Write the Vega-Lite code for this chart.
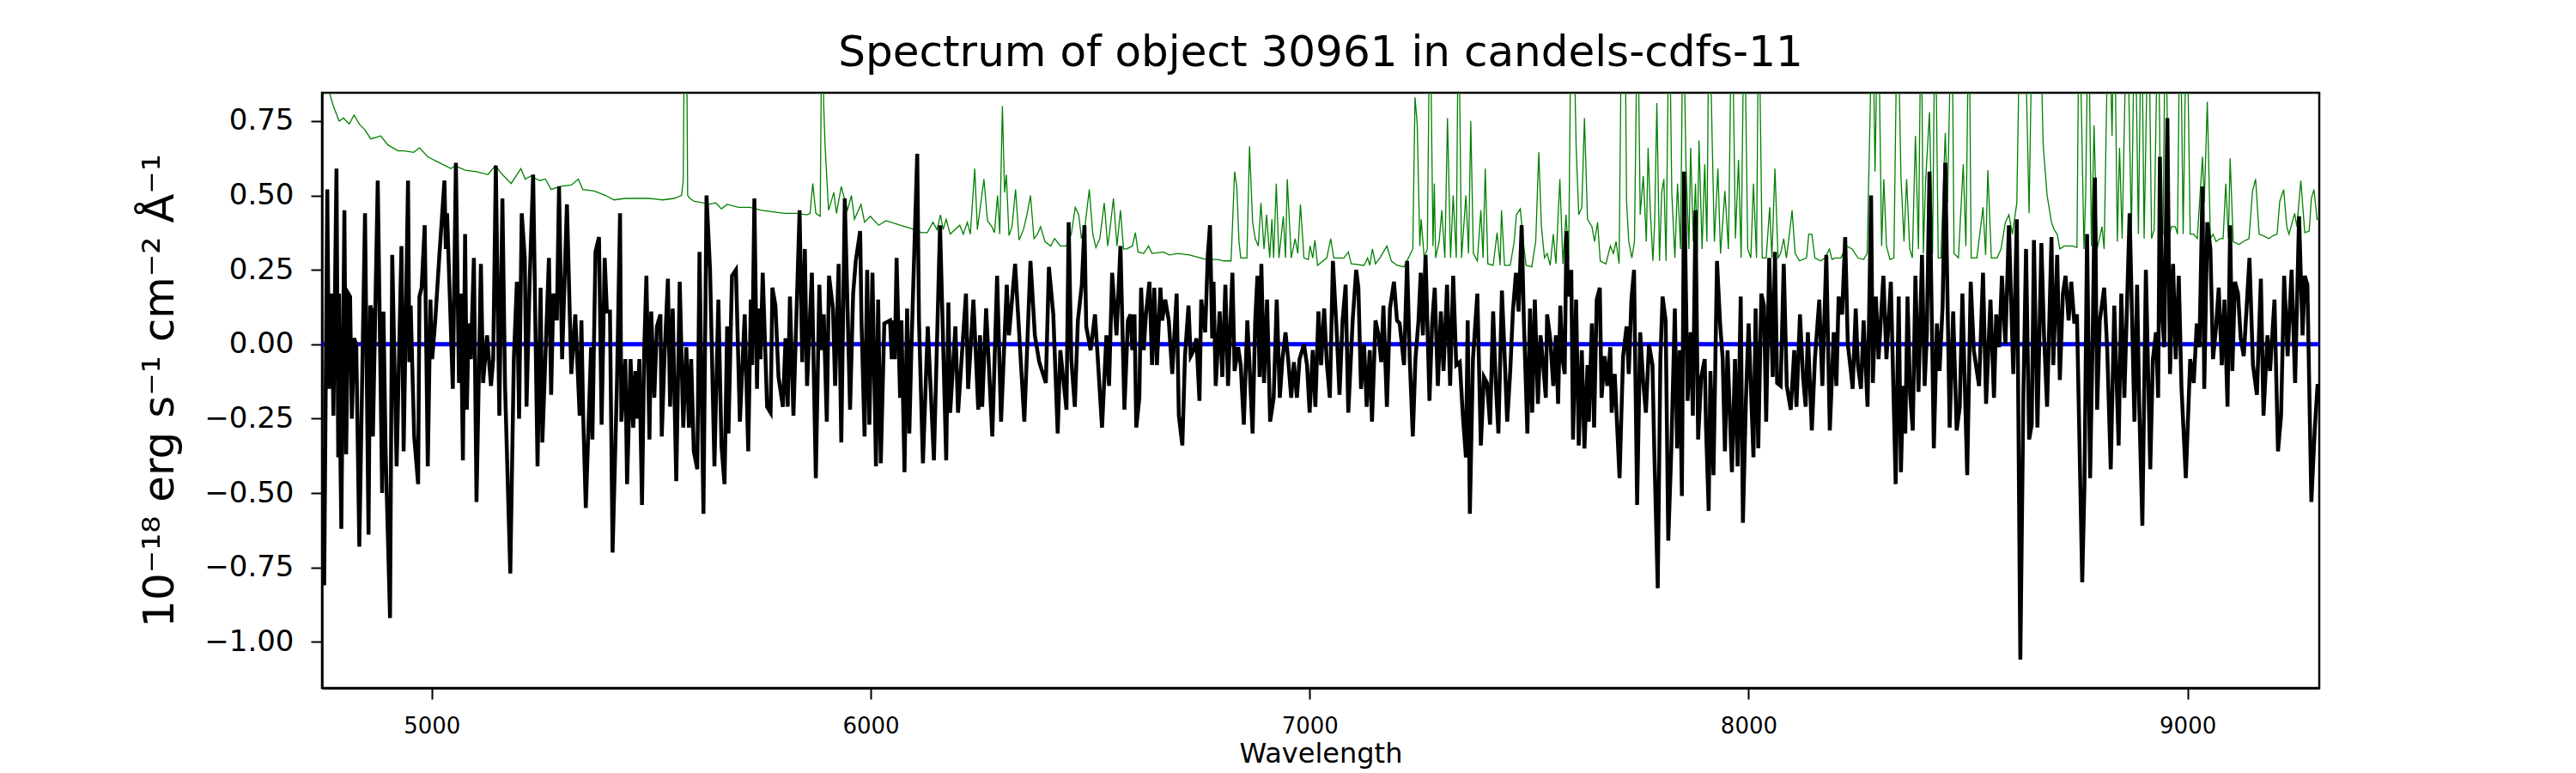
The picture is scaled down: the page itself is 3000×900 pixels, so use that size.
{
"$schema": "https://vega.github.io/schema/vega-lite/v6.json",
"width": 2326,
"height": 693,
"autosize": {"type": "none"},
"padding": {"left": 375, "top": 108, "right": 299, "bottom": 99},
"background": "white",
"config": {"view": {"stroke": "black", "strokeWidth": 2.5}, "font": "DejaVu Sans"},
"title": {"text": "Spectrum of object 30961 in candels-cdfs-11", "font": "DejaVu Sans", "fontSize": 50, "fontWeight": "normal", "color": "black", "anchor": "middle", "frame": "group", "baseline": "alphabetic", "offset": 28, "dy": 47},
"datasets": {
"flux": [
{"wavelength":4750,"flux":-0.35},{"wavelength":4755,"flux":-0.81},{"wavelength":4762,"flux":0.52},{"wavelength":4766,"flux":-0.15},{"wavelength":4772,"flux":0.17},{"wavelength":4776,"flux":-0.24},{"wavelength":4783,"flux":0.59},{"wavelength":4787,"flux":-0.38},{"wavelength":4789,"flux":0.17},{"wavelength":4791,"flux":-0.27},{"wavelength":4794,"flux":-0.62},{"wavelength":4801,"flux":0.45},{"wavelength":4805,"flux":-0.37},{"wavelength":4810,"flux":0.17},{"wavelength":4814,"flux":0.16},{"wavelength":4818,"flux":-0.25},{"wavelength":4823,"flux":0.02},{"wavelength":4828,"flux":0.0},{"wavelength":4835,"flux":-0.68},{"wavelength":4848,"flux":0.44},{"wavelength":4856,"flux":-0.64},{"wavelength":4860,"flux":0.13},{"wavelength":4864,"flux":0.11},{"wavelength":4866,"flux":-0.31},{"wavelength":4877,"flux":0.55},{"wavelength":4887,"flux":-0.50},{"wavelength":4890,"flux":0.11},{"wavelength":4895,"flux":-0.36},{"wavelength":4905,"flux":-0.92},{"wavelength":4910,"flux":0.30},{"wavelength":4920,"flux":-0.41},{"wavelength":4931,"flux":0.33},{"wavelength":4936,"flux":-0.36},{"wavelength":4946,"flux":0.55},{"wavelength":4949,"flux":-0.06},{"wavelength":4952,"flux":0.13},{"wavelength":4960,"flux":-0.31},{"wavelength":4969,"flux":-0.47},{"wavelength":4972,"flux":0.16},{"wavelength":4977,"flux":0.19},{"wavelength":4984,"flux":0.40},{"wavelength":4991,"flux":-0.41},{"wavelength":4997,"flux":0.15},{"wavelength":5001,"flux":-0.05},{"wavelength":5008,"flux":0.08},{"wavelength":5017,"flux":0.29},{"wavelength":5029,"flux":0.55},{"wavelength":5032,"flux":0.32},{"wavelength":5035,"flux":0.44},{"wavelength":5048,"flux":-0.15},{"wavelength":5055,"flux":0.61},{"wavelength":5062,"flux":-0.13},{"wavelength":5066,"flux":0.17},{"wavelength":5071,"flux":-0.39},{"wavelength":5076,"flux":0.37},{"wavelength":5080,"flux":-0.22},{"wavelength":5084,"flux":0.07},{"wavelength":5089,"flux":-0.05},{"wavelength":5096,"flux":0.29},{"wavelength":5102,"flux":-0.53},{"wavelength":5112,"flux":0.27},{"wavelength":5117,"flux":-0.13},{"wavelength":5126,"flux":0.03},{"wavelength":5135,"flux":-0.14},{"wavelength":5140,"flux":-0.05},{"wavelength":5146,"flux":0.60},{"wavelength":5154,"flux":-0.24},{"wavelength":5161,"flux":0.49},{"wavelength":5167,"flux":-0.14},{"wavelength":5179,"flux":-0.77},{"wavelength":5187,"flux":-0.05},{"wavelength":5194,"flux":0.21},{"wavelength":5199,"flux":-0.25},{"wavelength":5205,"flux":0.44},{"wavelength":5212,"flux":0.29},{"wavelength":5216,"flux":-0.21},{"wavelength":5223,"flux":0.21},{"wavelength":5231,"flux":0.57},{"wavelength":5241,"flux":-0.41},{"wavelength":5248,"flux":0.19},{"wavelength":5252,"flux":-0.33},{"wavelength":5267,"flux":0.29},{"wavelength":5272,"flux":-0.17},{"wavelength":5277,"flux":0.17},{"wavelength":5285,"flux":0.08},{"wavelength":5290,"flux":0.53},{"wavelength":5297,"flux":-0.05},{"wavelength":5308,"flux":0.47},{"wavelength":5318,"flux":-0.10},{"wavelength":5327,"flux":0.10},{"wavelength":5337,"flux":-0.24},{"wavelength":5341,"flux":0.08},{"wavelength":5345,"flux":-0.24},{"wavelength":5351,"flux":-0.55},{"wavelength":5363,"flux":-0.01},{"wavelength":5366,"flux":-0.32},{"wavelength":5373,"flux":0.31},{"wavelength":5381,"flux":0.36},{"wavelength":5387,"flux":-0.27},{"wavelength":5394,"flux":0.29},{"wavelength":5399,"flux":0.11},{"wavelength":5406,"flux":0.11},{"wavelength":5412,"flux":-0.70},{"wavelength":5422,"flux":-0.13},{"wavelength":5429,"flux":0.44},{"wavelength":5432,"flux":-0.26},{"wavelength":5441,"flux":-0.05},{"wavelength":5445,"flux":-0.47},{"wavelength":5453,"flux":-0.05},{"wavelength":5459,"flux":-0.28},{"wavelength":5464,"flux":-0.09},{"wavelength":5468,"flux":-0.25},{"wavelength":5473,"flux":-0.05},{"wavelength":5479,"flux":-0.54},{"wavelength":5484,"flux":-0.02},{"wavelength":5489,"flux":0.23},{"wavelength":5496,"flux":-0.32},{"wavelength":5500,"flux":0.11},{"wavelength":5507,"flux":-0.18},{"wavelength":5513,"flux":0.06},{"wavelength":5521,"flux":0.10},{"wavelength":5524,"flux":-0.31},{"wavelength":5530,"flux":-0.05},{"wavelength":5538,"flux":0.22},{"wavelength":5543,"flux":-0.21},{"wavelength":5549,"flux":0.12},{"wavelength":5557,"flux":-0.46},{"wavelength":5565,"flux":0.21},{"wavelength":5573,"flux":-0.28},{"wavelength":5580,"flux":-0.01},{"wavelength":5586,"flux":-0.28},{"wavelength":5591,"flux":-0.05},{"wavelength":5597,"flux":-0.36},{"wavelength":5605,"flux":-0.42},{"wavelength":5610,"flux":0.31},{"wavelength":5619,"flux":-0.57},{"wavelength":5626,"flux":0.50},{"wavelength":5634,"flux":0.25},{"wavelength":5644,"flux":-0.41},{"wavelength":5653,"flux":0.15},{"wavelength":5660,"flux":-0.34},{"wavelength":5667,"flux":-0.47},{"wavelength":5673,"flux":0.06},{"wavelength":5676,"flux":-0.30},{"wavelength":5684,"flux":0.23},{"wavelength":5693,"flux":0.25},{"wavelength":5702,"flux":-0.26},{"wavelength":5713,"flux":0.10},{"wavelength":5721,"flux":-0.36},{"wavelength":5727,"flux":0.15},{"wavelength":5730,"flux":-0.07},{"wavelength":5735,"flux":0.49},{"wavelength":5741,"flux":-0.15},{"wavelength":5744,"flux":0.12},{"wavelength":5749,"flux":-0.05},{"wavelength":5754,"flux":0.24},{"wavelength":5764,"flux":-0.21},{"wavelength":5772,"flux":-0.23},{"wavelength":5776,"flux":0.19},{"wavelength":5783,"flux":0.13},{"wavelength":5790,"flux":-0.11},{"wavelength":5800,"flux":-0.21},{"wavelength":5806,"flux":0.02},{"wavelength":5811,"flux":-0.21},{"wavelength":5816,"flux":0.16},{"wavelength":5824,"flux":-0.24},{"wavelength":5838,"flux":0.45},{"wavelength":5844,"flux":-0.06},{"wavelength":5850,"flux":0.32},{"wavelength":5855,"flux":-0.14},{"wavelength":5866,"flux":0.24},{"wavelength":5875,"flux":-0.45},{"wavelength":5883,"flux":0.20},{"wavelength":5888,"flux":-0.02},{"wavelength":5893,"flux":0.10},{"wavelength":5900,"flux":-0.26},{"wavelength":5905,"flux":0.23},{"wavelength":5914,"flux":0.12},{"wavelength":5919,"flux":-0.14},{"wavelength":5927,"flux":0.27},{"wavelength":5933,"flux":-0.33},{"wavelength":5941,"flux":0.49},{"wavelength":5953,"flux":-0.22},{"wavelength":5960,"flux":0.17},{"wavelength":5966,"flux":0.28},{"wavelength":5976,"flux":0.38},{"wavelength":5979,"flux":0.08},{"wavelength":5986,"flux":-0.31},{"wavelength":5992,"flux":0.25},{"wavelength":5997,"flux":-0.27},{"wavelength":6004,"flux":0.24},{"wavelength":6012,"flux":-0.41},{"wavelength":6017,"flux":0.15},{"wavelength":6023,"flux":-0.40},{"wavelength":6031,"flux":0.07},{"wavelength":6044,"flux":0.08},{"wavelength":6048,"flux":-0.05},{"wavelength":6051,"flux":0.08},{"wavelength":6055,"flux":-0.05},{"wavelength":6059,"flux":0.29},{"wavelength":6067,"flux":-0.18},{"wavelength":6070,"flux":0.08},{"wavelength":6077,"flux":-0.43},{"wavelength":6083,"flux":0.12},{"wavelength":6088,"flux":-0.30},{"wavelength":6093,"flux":0.00},{"wavelength":6106,"flux":0.64},{"wavelength":6110,"flux":0.08},{"wavelength":6119,"flux":-0.40},{"wavelength":6130,"flux":0.06},{"wavelength":6136,"flux":-0.13},{"wavelength":6144,"flux":-0.39},{"wavelength":6158,"flux":0.40},{"wavelength":6172,"flux":-0.39},{"wavelength":6177,"flux":0.14},{"wavelength":6181,"flux":-0.23},{"wavelength":6193,"flux":0.06},{"wavelength":6199,"flux":-0.23},{"wavelength":6217,"flux":0.17},{"wavelength":6222,"flux":-0.15},{"wavelength":6234,"flux":0.15},{"wavelength":6245,"flux":-0.22},{"wavelength":6249,"flux":0.03},{"wavelength":6254,"flux":-0.21},{"wavelength":6263,"flux":0.12},{"wavelength":6277,"flux":-0.31},{"wavelength":6288,"flux":0.23},{"wavelength":6297,"flux":-0.26},{"wavelength":6310,"flux":0.20},{"wavelength":6315,"flux":0.03},{"wavelength":6329,"flux":0.27},{"wavelength":6350,"flux":-0.26},{"wavelength":6364,"flux":0.28},{"wavelength":6374,"flux":0.03},{"wavelength":6384,"flux":-0.06},{"wavelength":6399,"flux":-0.13},{"wavelength":6406,"flux":0.26},{"wavelength":6416,"flux":0.10},{"wavelength":6426,"flux":-0.30},{"wavelength":6432,"flux":-0.02},{"wavelength":6446,"flux":-0.22},{"wavelength":6451,"flux":0.41},{"wavelength":6457,"flux":-0.05},{"wavelength":6465,"flux":-0.21},{"wavelength":6472,"flux":0.08},{"wavelength":6481,"flux":0.20},{"wavelength":6487,"flux":0.40},{"wavelength":6491,"flux":0.06},{"wavelength":6501,"flux":-0.02},{"wavelength":6511,"flux":0.10},{"wavelength":6517,"flux":-0.04},{"wavelength":6527,"flux":-0.28},{"wavelength":6537,"flux":0.03},{"wavelength":6543,"flux":-0.14},{"wavelength":6550,"flux":0.24},{"wavelength":6560,"flux":0.03},{"wavelength":6569,"flux":0.33},{"wavelength":6578,"flux":-0.22},{"wavelength":6586,"flux":0.08},{"wavelength":6592,"flux":0.10},{"wavelength":6596,"flux":-0.02},{"wavelength":6601,"flux":0.10},{"wavelength":6605,"flux":-0.28},{"wavelength":6612,"flux":-0.18},{"wavelength":6616,"flux":0.19},{"wavelength":6622,"flux":-0.02},{"wavelength":6627,"flux":0.10},{"wavelength":6635,"flux":0.21},{"wavelength":6641,"flux":-0.07},{"wavelength":6646,"flux":0.19},{"wavelength":6652,"flux":-0.07},{"wavelength":6660,"flux":0.19},{"wavelength":6664,"flux":0.08},{"wavelength":6671,"flux":0.15},{"wavelength":6679,"flux":0.08},{"wavelength":6687,"flux":-0.10},{"wavelength":6697,"flux":0.17},{"wavelength":6702,"flux":-0.24},{"wavelength":6710,"flux":-0.34},{"wavelength":6716,"flux":-0.04},{"wavelength":6724,"flux":0.13},{"wavelength":6729,"flux":-0.04},{"wavelength":6736,"flux":-0.02},{"wavelength":6742,"flux":0.02},{"wavelength":6749,"flux":-0.19},{"wavelength":6753,"flux":0.15},{"wavelength":6762,"flux":0.04},{"wavelength":6768,"flux":0.30},{"wavelength":6773,"flux":0.40},{"wavelength":6778,"flux":0.02},{"wavelength":6781,"flux":0.21},{"wavelength":6786,"flux":-0.14},{"wavelength":6795,"flux":0.11},{"wavelength":6801,"flux":-0.11},{"wavelength":6808,"flux":0.20},{"wavelength":6814,"flux":-0.14},{"wavelength":6824,"flux":0.24},{"wavelength":6829,"flux":-0.09},{"wavelength":6837,"flux":-0.01},{"wavelength":6843,"flux":-0.07},{"wavelength":6850,"flux":-0.27},{"wavelength":6858,"flux":0.08},{"wavelength":6863,"flux":-0.07},{"wavelength":6870,"flux":-0.30},{"wavelength":6876,"flux":0.08},{"wavelength":6881,"flux":0.23},{"wavelength":6886,"flux":-0.11},{"wavelength":6890,"flux":0.27},{"wavelength":6896,"flux":-0.13},{"wavelength":6903,"flux":0.15},{"wavelength":6910,"flux":-0.26},{"wavelength":6918,"flux":-0.18},{"wavelength":6925,"flux":0.15},{"wavelength":6932,"flux":-0.18},{"wavelength":6938,"flux":-0.05},{"wavelength":6945,"flux":0.04},{"wavelength":6951,"flux":-0.05},{"wavelength":6958,"flux":-0.18},{"wavelength":6964,"flux":-0.06},{"wavelength":6971,"flux":-0.18},{"wavelength":6977,"flux":-0.05},{"wavelength":6987,"flux":0.00},{"wavelength":6994,"flux":-0.07},{"wavelength":7000,"flux":-0.23},{"wavelength":7007,"flux":-0.02},{"wavelength":7013,"flux":-0.21},{"wavelength":7020,"flux":0.11},{"wavelength":7026,"flux":-0.07},{"wavelength":7033,"flux":0.12},{"wavelength":7039,"flux":-0.06},{"wavelength":7046,"flux":-0.18},{"wavelength":7053,"flux":0.28},{"wavelength":7062,"flux":0.03},{"wavelength":7068,"flux":-0.17},{"wavelength":7075,"flux":0.08},{"wavelength":7082,"flux":0.20},{"wavelength":7088,"flux":-0.23},{"wavelength":7098,"flux":0.08},{"wavelength":7106,"flux":0.25},{"wavelength":7111,"flux":0.19},{"wavelength":7117,"flux":-0.15},{"wavelength":7124,"flux":0.00},{"wavelength":7130,"flux":-0.21},{"wavelength":7137,"flux":-0.02},{"wavelength":7142,"flux":-0.26},{"wavelength":7150,"flux":0.08},{"wavelength":7157,"flux":0.03},{"wavelength":7163,"flux":-0.06},{"wavelength":7168,"flux":0.13},{"wavelength":7176,"flux":-0.21},{"wavelength":7183,"flux":0.12},{"wavelength":7192,"flux":0.21},{"wavelength":7199,"flux":0.08},{"wavelength":7205,"flux":0.07},{"wavelength":7215,"flux":-0.07},{"wavelength":7222,"flux":0.28},{"wavelength":7228,"flux":-0.05},{"wavelength":7235,"flux":-0.31},{"wavelength":7241,"flux":-0.05},{"wavelength":7248,"flux":0.08},{"wavelength":7253,"flux":0.24},{"wavelength":7258,"flux":0.03},{"wavelength":7264,"flux":0.30},{"wavelength":7273,"flux":-0.19},{"wavelength":7279,"flux":0.07},{"wavelength":7285,"flux":0.19},{"wavelength":7292,"flux":-0.14},{"wavelength":7299,"flux":0.11},{"wavelength":7305,"flux":-0.09},{"wavelength":7313,"flux":0.20},{"wavelength":7320,"flux":-0.14},{"wavelength":7327,"flux":0.23},{"wavelength":7334,"flux":-0.07},{"wavelength":7342,"flux":-0.06},{"wavelength":7349,"flux":-0.24},{"wavelength":7356,"flux":-0.38},{"wavelength":7360,"flux":0.08},{"wavelength":7365,"flux":-0.57},{"wavelength":7372,"flux":-0.05},{"wavelength":7382,"flux":0.17},{"wavelength":7390,"flux":-0.34},{"wavelength":7397,"flux":-0.11},{"wavelength":7404,"flux":-0.13},{"wavelength":7411,"flux":-0.27},{"wavelength":7418,"flux":0.11},{"wavelength":7424,"flux":-0.13},{"wavelength":7430,"flux":-0.30},{"wavelength":7438,"flux":0.18},{"wavelength":7445,"flux":-0.07},{"wavelength":7450,"flux":-0.26},{"wavelength":7457,"flux":-0.09},{"wavelength":7463,"flux":0.11},{"wavelength":7470,"flux":0.24},{"wavelength":7476,"flux":0.11},{"wavelength":7483,"flux":0.40},{"wavelength":7488,"flux":0.08},{"wavelength":7496,"flux":-0.30},{"wavelength":7502,"flux":0.12},{"wavelength":7507,"flux":-0.23},{"wavelength":7513,"flux":0.15},{"wavelength":7520,"flux":-0.20},{"wavelength":7526,"flux":0.03},{"wavelength":7532,"flux":-0.07},{"wavelength":7538,"flux":-0.18},{"wavelength":7541,"flux":0.10},{"wavelength":7548,"flux":0.02},{"wavelength":7555,"flux":-0.14},{"wavelength":7561,"flux":0.03},{"wavelength":7566,"flux":-0.20},{"wavelength":7571,"flux":0.13},{"wavelength":7576,"flux":-0.05},{"wavelength":7581,"flux":-0.10},{"wavelength":7585,"flux":0.38},{"wavelength":7589,"flux":0.16},{"wavelength":7596,"flux":0.25},{"wavelength":7600,"flux":-0.32},{"wavelength":7607,"flux":0.15},{"wavelength":7613,"flux":-0.34},{"wavelength":7620,"flux":-0.02},{"wavelength":7626,"flux":-0.35},{"wavelength":7633,"flux":-0.07},{"wavelength":7636,"flux":-0.26},{"wavelength":7643,"flux":0.07},{"wavelength":7648,"flux":-0.28},{"wavelength":7654,"flux":0.15},{"wavelength":7661,"flux":0.19},{"wavelength":7665,"flux":-0.18},{"wavelength":7672,"flux":-0.04},{"wavelength":7678,"flux":-0.14},{"wavelength":7685,"flux":-0.01},{"wavelength":7688,"flux":-0.23},{"wavelength":7695,"flux":-0.10},{"wavelength":7706,"flux":-0.45},{"wavelength":7714,"flux":-0.04},{"wavelength":7722,"flux":0.06},{"wavelength":7727,"flux":-0.10},{"wavelength":7733,"flux":0.15},{"wavelength":7739,"flux":0.25},{"wavelength":7746,"flux":-0.54},{"wavelength":7753,"flux":0.04},{"wavelength":7760,"flux":-0.13},{"wavelength":7766,"flux":-0.23},{"wavelength":7773,"flux":0.00},{"wavelength":7781,"flux":-0.07},{"wavelength":7785,"flux":-0.35},{"wavelength":7793,"flux":-0.82},{"wavelength":7799,"flux":-0.05},{"wavelength":7804,"flux":0.16},{"wavelength":7811,"flux":0.08},{"wavelength":7817,"flux":-0.66},{"wavelength":7824,"flux":-0.35},{"wavelength":7832,"flux":0.12},{"wavelength":7837,"flux":-0.35},{"wavelength":7843,"flux":-0.02},{"wavelength":7848,"flux":-0.51},{"wavelength":7853,"flux":0.58},{"wavelength":7861,"flux":-0.19},{"wavelength":7868,"flux":0.04},{"wavelength":7873,"flux":-0.24},{"wavelength":7879,"flux":0.45},{"wavelength":7885,"flux":-0.32},{"wavelength":7892,"flux":-0.11},{"wavelength":7900,"flux":-0.05},{"wavelength":7903,"flux":-0.28},{"wavelength":7909,"flux":-0.56},{"wavelength":7913,"flux":-0.09},{"wavelength":7920,"flux":-0.44},{"wavelength":7928,"flux":0.28},{"wavelength":7935,"flux":0.07},{"wavelength":7941,"flux":-0.05},{"wavelength":7946,"flux":-0.36},{"wavelength":7952,"flux":-0.02},{"wavelength":7962,"flux":-0.43},{"wavelength":7969,"flux":-0.05},{"wavelength":7975,"flux":-0.41},{"wavelength":7982,"flux":0.16},{"wavelength":7987,"flux":-0.60},{"wavelength":7994,"flux":-0.18},{"wavelength":8000,"flux":0.07},{"wavelength":8011,"flux":-0.38},{"wavelength":8016,"flux":0.12},{"wavelength":8022,"flux":-0.35},{"wavelength":8029,"flux":0.17},{"wavelength":8035,"flux":0.13},{"wavelength":8040,"flux":-0.26},{"wavelength":8047,"flux":0.29},{"wavelength":8055,"flux":-0.11},{"wavelength":8060,"flux":0.31},{"wavelength":8065,"flux":-0.13},{"wavelength":8073,"flux":-0.14},{"wavelength":8080,"flux":0.27},{"wavelength":8087,"flux":-0.14},{"wavelength":8096,"flux":-0.22},{"wavelength":8104,"flux":-0.02},{"wavelength":8109,"flux":-0.21},{"wavelength":8117,"flux":0.10},{"wavelength":8124,"flux":-0.11},{"wavelength":8130,"flux":-0.21},{"wavelength":8135,"flux":0.04},{"wavelength":8144,"flux":-0.29},{"wavelength":8151,"flux":-0.05},{"wavelength":8161,"flux":0.15},{"wavelength":8168,"flux":-0.14},{"wavelength":8177,"flux":0.30},{"wavelength":8185,"flux":-0.29},{"wavelength":8194,"flux":0.04},{"wavelength":8200,"flux":-0.14},{"wavelength":8205,"flux":0.16},{"wavelength":8213,"flux":0.10},{"wavelength":8220,"flux":0.36},{"wavelength":8226,"flux":0.00},{"wavelength":8233,"flux":-0.09},{"wavelength":8237,"flux":-0.15},{"wavelength":8244,"flux":0.12},{"wavelength":8249,"flux":-0.07},{"wavelength":8256,"flux":-0.15},{"wavelength":8262,"flux":0.08},{"wavelength":8271,"flux":-0.21},{"wavelength":8279,"flux":0.50},{"wavelength":8283,"flux":-0.13},{"wavelength":8290,"flux":0.16},{"wavelength":8296,"flux":-0.05},{"wavelength":8307,"flux":0.23},{"wavelength":8314,"flux":-0.05},{"wavelength":8324,"flux":0.21},{"wavelength":8335,"flux":-0.47},{"wavelength":8342,"flux":0.16},{"wavelength":8347,"flux":-0.43},{"wavelength":8352,"flux":-0.14},{"wavelength":8357,"flux":-0.30},{"wavelength":8362,"flux":0.16},{"wavelength":8368,"flux":-0.17},{"wavelength":8374,"flux":-0.29},{"wavelength":8380,"flux":0.23},{"wavelength":8387,"flux":-0.16},{"wavelength":8395,"flux":0.30},{"wavelength":8401,"flux":-0.14},{"wavelength":8406,"flux":0.03},{"wavelength":8412,"flux":0.58},{"wavelength":8422,"flux":-0.35},{"wavelength":8429,"flux":0.07},{"wavelength":8435,"flux":-0.09},{"wavelength":8442,"flux":0.13},{"wavelength":8448,"flux":0.61},{"wavelength":8458,"flux":-0.28},{"wavelength":8466,"flux":0.11},{"wavelength":8474,"flux":-0.29},{"wavelength":8481,"flux":-0.21},{"wavelength":8487,"flux":0.17},{"wavelength":8498,"flux":-0.44},{"wavelength":8506,"flux":0.21},{"wavelength":8513,"flux":-0.02},{"wavelength":8525,"flux":-0.14},{"wavelength":8534,"flux":0.24},{"wavelength":8541,"flux":-0.20},{"wavelength":8551,"flux":0.15},{"wavelength":8559,"flux":-0.18},{"wavelength":8564,"flux":0.10},{"wavelength":8571,"flux":-0.01},{"wavelength":8577,"flux":0.23},{"wavelength":8585,"flux":0.00},{"wavelength":8593,"flux":0.40},{"wavelength":8603,"flux":-0.10},{"wavelength":8611,"flux":0.42},{"wavelength":8619,"flux":-1.06},{"wavelength":8626,"flux":-0.17},{"wavelength":8632,"flux":0.32},{"wavelength":8639,"flux":-0.32},{"wavelength":8645,"flux":-0.27},{"wavelength":8650,"flux":0.35},{"wavelength":8658,"flux":-0.28},{"wavelength":8667,"flux":0.34},{"wavelength":8673,"flux":0.03},{"wavelength":8680,"flux":-0.21},{"wavelength":8690,"flux":0.36},{"wavelength":8694,"flux":-0.07},{"wavelength":8703,"flux":0.30},{"wavelength":8709,"flux":-0.12},{"wavelength":8716,"flux":0.17},{"wavelength":8722,"flux":0.23},{"wavelength":8729,"flux":0.08},{"wavelength":8735,"flux":0.21},{"wavelength":8742,"flux":0.07},{"wavelength":8748,"flux":0.10},{"wavelength":8760,"flux":-0.80},{"wavelength":8765,"flux":-0.48},{"wavelength":8771,"flux":0.37},{"wavelength":8778,"flux":-0.45},{"wavelength":8784,"flux":0.04},{"wavelength":8789,"flux":0.56},{"wavelength":8794,"flux":-0.22},{"wavelength":8800,"flux":0.08},{"wavelength":8810,"flux":0.19},{"wavelength":8817,"flux":-0.02},{"wavelength":8825,"flux":-0.42},{"wavelength":8833,"flux":0.13},{"wavelength":8843,"flux":-0.34},{"wavelength":8849,"flux":0.17},{"wavelength":8856,"flux":-0.18},{"wavelength":8868,"flux":0.44},{"wavelength":8879,"flux":-0.26},{"wavelength":8885,"flux":0.20},{"wavelength":8890,"flux":-0.21},{"wavelength":8897,"flux":-0.61},{"wavelength":8905,"flux":0.25},{"wavelength":8915,"flux":-0.42},{"wavelength":8921,"flux":-0.05},{"wavelength":8928,"flux":0.04},{"wavelength":8933,"flux":-0.18},{"wavelength":8937,"flux":0.63},{"wavelength":8943,"flux":0.08},{"wavelength":8947,"flux":-0.01},{"wavelength":8954,"flux":0.76},{"wavelength":8960,"flux":-0.10},{"wavelength":8967,"flux":0.27},{"wavelength":8973,"flux":-0.05},{"wavelength":8980,"flux":0.23},{"wavelength":8986,"flux":-0.14},{"wavelength":8996,"flux":-0.45},{"wavelength":9006,"flux":-0.05},{"wavelength":9014,"flux":-0.13},{"wavelength":9021,"flux":0.07},{"wavelength":9027,"flux":-0.01},{"wavelength":9034,"flux":0.53},{"wavelength":9038,"flux":-0.15},{"wavelength":9045,"flux":0.41},{"wavelength":9052,"flux":0.32},{"wavelength":9058,"flux":-0.05},{"wavelength":9065,"flux":0.06},{"wavelength":9071,"flux":0.19},{"wavelength":9078,"flux":-0.07},{"wavelength":9084,"flux":0.15},{"wavelength":9091,"flux":-0.21},{"wavelength":9097,"flux":0.40},{"wavelength":9102,"flux":-0.09},{"wavelength":9108,"flux":0.21},{"wavelength":9115,"flux":0.17},{"wavelength":9121,"flux":0.02},{"wavelength":9128,"flux":-0.04},{"wavelength":9134,"flux":0.11},{"wavelength":9141,"flux":0.29},{"wavelength":9149,"flux":-0.07},{"wavelength":9158,"flux":-0.17},{"wavelength":9167,"flux":0.22},{"wavelength":9173,"flux":-0.24},{"wavelength":9182,"flux":0.03},{"wavelength":9188,"flux":-0.09},{"wavelength":9198,"flux":0.15},{"wavelength":9206,"flux":-0.36},{"wavelength":9213,"flux":-0.24},{"wavelength":9220,"flux":0.23},{"wavelength":9228,"flux":-0.04},{"wavelength":9237,"flux":0.25},{"wavelength":9245,"flux":-0.13},{"wavelength":9254,"flux":0.43},{"wavelength":9262,"flux":0.03},{"wavelength":9267,"flux":0.23},{"wavelength":9273,"flux":0.20},{"wavelength":9282,"flux":-0.53},{"wavelength":9290,"flux":-0.28},{"wavelength":9296,"flux":-0.14},{"wavelength":9300,"flux":-0.14}
],
"noise": [
{"wavelength":4750,"flux":0.95},{"wavelength":4768,"flux":0.84},{"wavelength":4776,"flux":0.80},{"wavelength":4789,"flux":0.75},{"wavelength":4799,"flux":0.76},{"wavelength":4812,"flux":0.74},{"wavelength":4823,"flux":0.77},{"wavelength":4835,"flux":0.74},{"wavelength":4848,"flux":0.72},{"wavelength":4861,"flux":0.69},{"wavelength":4874,"flux":0.695},{"wavelength":4884,"flux":0.70},{"wavelength":4900,"flux":0.67},{"wavelength":4923,"flux":0.65},{"wavelength":4936,"flux":0.65},{"wavelength":4959,"flux":0.645},{"wavelength":4972,"flux":0.66},{"wavelength":4991,"flux":0.63},{"wavelength":5017,"flux":0.61},{"wavelength":5044,"flux":0.59},{"wavelength":5053,"flux":0.60},{"wavelength":5076,"flux":0.585},{"wavelength":5102,"flux":0.58},{"wavelength":5128,"flux":0.57},{"wavelength":5145,"flux":0.60},{"wavelength":5161,"flux":0.57},{"wavelength":5181,"flux":0.54},{"wavelength":5203,"flux":0.59},{"wavelength":5213,"flux":0.555},{"wavelength":5226,"flux":0.565},{"wavelength":5246,"flux":0.55},{"wavelength":5259,"flux":0.555},{"wavelength":5272,"flux":0.52},{"wavelength":5291,"flux":0.53},{"wavelength":5318,"flux":0.535},{"wavelength":5334,"flux":0.555},{"wavelength":5344,"flux":0.52},{"wavelength":5370,"flux":0.515},{"wavelength":5396,"flux":0.50},{"wavelength":5415,"flux":0.485},{"wavelength":5441,"flux":0.49},{"wavelength":5468,"flux":0.49},{"wavelength":5494,"flux":0.49},{"wavelength":5526,"flux":0.485},{"wavelength":5552,"flux":0.49},{"wavelength":5569,"flux":0.50},{"wavelength":5573,"flux":0.55},{"wavelength":5576,"flux":1.2},{"wavelength":5580,"flux":1.2},{"wavelength":5583,"flux":0.50},{"wavelength":5588,"flux":0.49},{"wavelength":5598,"flux":0.48},{"wavelength":5618,"flux":0.475},{"wavelength":5631,"flux":0.47},{"wavelength":5647,"flux":0.475},{"wavelength":5660,"flux":0.455},{"wavelength":5673,"flux":0.47},{"wavelength":5699,"flux":0.46},{"wavelength":5725,"flux":0.46},{"wavelength":5751,"flux":0.45},{"wavelength":5777,"flux":0.445},{"wavelength":5803,"flux":0.44},{"wavelength":5829,"flux":0.44},{"wavelength":5855,"flux":0.435},{"wavelength":5862,"flux":0.44},{"wavelength":5868,"flux":0.54},{"wavelength":5875,"flux":0.44},{"wavelength":5885,"flux":0.43},{"wavelength":5889,"flux":1.2},{"wavelength":5893,"flux":0.80},{"wavelength":5896,"flux":0.67},{"wavelength":5904,"flux":0.45},{"wavelength":5916,"flux":0.51},{"wavelength":5922,"flux":0.44},{"wavelength":5933,"flux":0.53},{"wavelength":5947,"flux":0.45},{"wavelength":5956,"flux":0.50},{"wavelength":5963,"flux":0.42},{"wavelength":5978,"flux":0.47},{"wavelength":5986,"flux":0.41},{"wavelength":5999,"flux":0.43},{"wavelength":6018,"flux":0.40},{"wavelength":6035,"flux":0.415},{"wavelength":6067,"flux":0.40},{"wavelength":6090,"flux":0.39},{"wavelength":6116,"flux":0.375},{"wavelength":6129,"flux":0.375},{"wavelength":6142,"flux":0.41},{"wavelength":6151,"flux":0.385},{"wavelength":6159,"flux":0.435},{"wavelength":6165,"flux":0.385},{"wavelength":6172,"flux":0.42},{"wavelength":6181,"flux":0.37},{"wavelength":6203,"flux":0.40},{"wavelength":6211,"flux":0.37},{"wavelength":6220,"flux":0.41},{"wavelength":6227,"flux":0.37},{"wavelength":6237,"flux":0.59},{"wavelength":6243,"flux":0.385},{"wavelength":6258,"flux":0.555},{"wavelength":6266,"flux":0.415},{"wavelength":6276,"flux":0.395},{"wavelength":6282,"flux":0.375},{"wavelength":6289,"flux":0.50},{"wavelength":6294,"flux":0.37},{"wavelength":6300,"flux":0.80},{"wavelength":6305,"flux":0.51},{"wavelength":6309,"flux":0.57},{"wavelength":6315,"flux":0.365},{"wavelength":6322,"flux":0.395},{"wavelength":6330,"flux":0.52},{"wavelength":6338,"flux":0.35},{"wavelength":6348,"flux":0.385},{"wavelength":6356,"flux":0.435},{"wavelength":6364,"flux":0.50},{"wavelength":6372,"flux":0.355},{"wavelength":6380,"flux":0.37},{"wavelength":6387,"flux":0.395},{"wavelength":6397,"flux":0.345},{"wavelength":6410,"flux":0.33},{"wavelength":6419,"flux":0.355},{"wavelength":6432,"flux":0.33},{"wavelength":6445,"flux":0.33},{"wavelength":6457,"flux":0.37},{"wavelength":6466,"flux":0.46},{"wavelength":6474,"flux":0.435},{"wavelength":6480,"flux":0.355},{"wavelength":6488,"flux":0.395},{"wavelength":6498,"flux":0.52},{"wavelength":6506,"flux":0.37},{"wavelength":6513,"flux":0.325},{"wavelength":6522,"flux":0.355},{"wavelength":6532,"flux":0.475},{"wavelength":6540,"flux":0.33},{"wavelength":6545,"flux":0.385},{"wavelength":6553,"flux":0.49},{"wavelength":6561,"flux":0.33},{"wavelength":6569,"flux":0.45},{"wavelength":6576,"flux":0.32},{"wavelength":6583,"flux":0.32},{"wavelength":6596,"flux":0.33},{"wavelength":6603,"flux":0.375},{"wavelength":6609,"flux":0.31},{"wavelength":6622,"flux":0.305},{"wavelength":6633,"flux":0.33},{"wavelength":6641,"flux":0.305},{"wavelength":6667,"flux":0.31},{"wavelength":6680,"flux":0.30},{"wavelength":6700,"flux":0.305},{"wavelength":6726,"flux":0.30},{"wavelength":6752,"flux":0.29},{"wavelength":6765,"flux":0.285},{"wavelength":6791,"flux":0.285},{"wavelength":6804,"flux":0.28},{"wavelength":6821,"flux":0.28},{"wavelength":6829,"flux":0.58},{"wavelength":6834,"flux":0.53},{"wavelength":6839,"flux":0.345},{"wavelength":6843,"flux":0.29},{"wavelength":6857,"flux":0.29},{"wavelength":6863,"flux":0.665},{"wavelength":6870,"flux":0.41},{"wavelength":6876,"flux":0.355},{"wavelength":6883,"flux":0.33},{"wavelength":6889,"flux":0.475},{"wavelength":6896,"flux":0.32},{"wavelength":6902,"flux":0.435},{"wavelength":6909,"flux":0.29},{"wavelength":6914,"flux":0.42},{"wavelength":6918,"flux":0.29},{"wavelength":6924,"flux":0.54},{"wavelength":6930,"flux":0.29},{"wavelength":6940,"flux":0.43},{"wavelength":6945,"flux":0.29},{"wavelength":6949,"flux":0.555},{"wavelength":6958,"flux":0.29},{"wavelength":6967,"flux":0.355},{"wavelength":6973,"flux":0.305},{"wavelength":6979,"flux":0.47},{"wavelength":6987,"flux":0.29},{"wavelength":6997,"flux":0.285},{"wavelength":7001,"flux":0.33},{"wavelength":7007,"flux":0.29},{"wavelength":7012,"flux":0.35},{"wavelength":7018,"flux":0.265},{"wavelength":7039,"flux":0.29},{"wavelength":7048,"flux":0.355},{"wavelength":7055,"flux":0.29},{"wavelength":7078,"flux":0.29},{"wavelength":7088,"flux":0.31},{"wavelength":7095,"flux":0.27},{"wavelength":7124,"flux":0.265},{"wavelength":7132,"flux":0.29},{"wavelength":7137,"flux":0.265},{"wavelength":7143,"flux":0.32},{"wavelength":7150,"flux":0.27},{"wavelength":7160,"flux":0.29},{"wavelength":7168,"flux":0.31},{"wavelength":7176,"flux":0.33},{"wavelength":7186,"flux":0.28},{"wavelength":7199,"flux":0.265},{"wavelength":7215,"flux":0.26},{"wavelength":7225,"flux":0.29},{"wavelength":7235,"flux":0.32},{"wavelength":7240,"flux":0.83},{"wavelength":7245,"flux":0.74},{"wavelength":7251,"flux":0.33},{"wavelength":7254,"flux":0.42},{"wavelength":7261,"flux":0.29},{"wavelength":7268,"flux":0.32},{"wavelength":7274,"flux":1.2},{"wavelength":7281,"flux":0.33},{"wavelength":7284,"flux":0.54},{"wavelength":7287,"flux":0.29},{"wavelength":7295,"flux":0.345},{"wavelength":7301,"flux":0.45},{"wavelength":7308,"flux":0.29},{"wavelength":7314,"flux":0.76},{"wavelength":7321,"flux":0.29},{"wavelength":7327,"flux":0.50},{"wavelength":7334,"flux":0.29},{"wavelength":7339,"flux":1.2},{"wavelength":7346,"flux":0.29},{"wavelength":7356,"flux":0.50},{"wavelength":7362,"flux":0.305},{"wavelength":7367,"flux":0.75},{"wavelength":7373,"flux":0.305},{"wavelength":7382,"flux":0.28},{"wavelength":7390,"flux":0.45},{"wavelength":7395,"flux":0.29},{"wavelength":7400,"flux":0.59},{"wavelength":7406,"flux":0.27},{"wavelength":7418,"flux":0.265},{"wavelength":7427,"flux":0.375},{"wavelength":7434,"flux":0.265},{"wavelength":7437,"flux":0.45},{"wavelength":7444,"flux":0.265},{"wavelength":7457,"flux":0.265},{"wavelength":7466,"flux":0.345},{"wavelength":7471,"flux":0.435},{"wavelength":7480,"flux":0.455},{"wavelength":7486,"flux":0.355},{"wavelength":7493,"flux":0.265},{"wavelength":7506,"flux":0.26},{"wavelength":7515,"flux":0.345},{"wavelength":7522,"flux":0.645},{"wavelength":7528,"flux":0.395},{"wavelength":7535,"flux":0.29},{"wavelength":7541,"flux":0.305},{"wavelength":7548,"flux":0.265},{"wavelength":7555,"flux":0.37},{"wavelength":7561,"flux":0.27},{"wavelength":7570,"flux":0.555},{"wavelength":7577,"flux":0.27},{"wavelength":7584,"flux":0.435},{"wavelength":7590,"flux":0.28},{"wavelength":7596,"flux":1.2},{"wavelength":7600,"flux":1.2},{"wavelength":7607,"flux":0.67},{"wavelength":7613,"flux":0.435},{"wavelength":7620,"flux":0.46},{"wavelength":7626,"flux":0.76},{"wavelength":7633,"flux":0.42},{"wavelength":7643,"flux":0.395},{"wavelength":7649,"flux":0.345},{"wavelength":7656,"flux":0.41},{"wavelength":7662,"flux":0.28},{"wavelength":7675,"flux":0.27},{"wavelength":7685,"flux":0.33},{"wavelength":7692,"flux":0.305},{"wavelength":7698,"flux":0.345},{"wavelength":7705,"flux":0.27},{"wavelength":7711,"flux":1.2},{"wavelength":7718,"flux":1.2},{"wavelength":7722,"flux":0.475},{"wavelength":7727,"flux":0.345},{"wavelength":7734,"flux":0.29},{"wavelength":7740,"flux":0.345},{"wavelength":7747,"flux":1.2},{"wavelength":7753,"flux":0.435},{"wavelength":7760,"flux":0.565},{"wavelength":7767,"flux":0.345},{"wavelength":7771,"flux":0.66},{"wavelength":7776,"flux":0.45},{"wavelength":7782,"flux":0.28},{"wavelength":7786,"flux":0.41},{"wavelength":7791,"flux":0.81},{"wavelength":7797,"flux":0.28},{"wavelength":7802,"flux":0.51},{"wavelength":7807,"flux":0.555},{"wavelength":7812,"flux":0.28},{"wavelength":7819,"flux":1.2},{"wavelength":7825,"flux":0.51},{"wavelength":7832,"flux":0.29},{"wavelength":7838,"flux":0.54},{"wavelength":7845,"flux":0.32},{"wavelength":7851,"flux":1.2},{"wavelength":7857,"flux":0.62},{"wavelength":7864,"flux":0.32},{"wavelength":7868,"flux":0.66},{"wavelength":7874,"flux":0.345},{"wavelength":7879,"flux":0.54},{"wavelength":7883,"flux":0.305},{"wavelength":7887,"flux":0.685},{"wavelength":7894,"flux":0.32},{"wavelength":7900,"flux":0.605},{"wavelength":7905,"flux":0.345},{"wavelength":7910,"flux":1.2},{"wavelength":7917,"flux":0.685},{"wavelength":7922,"flux":0.345},{"wavelength":7930,"flux":0.59},{"wavelength":7936,"flux":0.305},{"wavelength":7946,"flux":0.515},{"wavelength":7954,"flux":0.32},{"wavelength":7962,"flux":1.2},{"wavelength":7970,"flux":0.355},{"wavelength":7977,"flux":0.62},{"wavelength":7983,"flux":0.29},{"wavelength":7990,"flux":1.2},{"wavelength":7998,"flux":0.32},{"wavelength":8005,"flux":0.29},{"wavelength":8011,"flux":0.54},{"wavelength":8018,"flux":0.29},{"wavelength":8023,"flux":1.2},{"wavelength":8031,"flux":0.29},{"wavelength":8040,"flux":0.29},{"wavelength":8048,"flux":0.46},{"wavelength":8053,"flux":0.29},{"wavelength":8060,"flux":0.59},{"wavelength":8067,"flux":0.29},{"wavelength":8073,"flux":0.305},{"wavelength":8080,"flux":0.355},{"wavelength":8086,"flux":0.29},{"wavelength":8093,"flux":0.37},{"wavelength":8099,"flux":0.45},{"wavelength":8106,"flux":0.305},{"wavelength":8116,"flux":0.28},{"wavelength":8132,"flux":0.29},{"wavelength":8137,"flux":0.37},{"wavelength":8144,"flux":0.37},{"wavelength":8151,"flux":0.29},{"wavelength":8164,"flux":0.28},{"wavelength":8174,"flux":0.29},{"wavelength":8184,"flux":0.32},{"wavelength":8190,"flux":0.285},{"wavelength":8197,"flux":0.29},{"wavelength":8210,"flux":0.29},{"wavelength":8223,"flux":0.33},{"wavelength":8236,"flux":0.32},{"wavelength":8249,"flux":0.29},{"wavelength":8262,"flux":0.285},{"wavelength":8270,"flux":0.305},{"wavelength":8277,"flux":0.79},{"wavelength":8282,"flux":1.2},{"wavelength":8288,"flux":0.58},{"wavelength":8295,"flux":1.2},{"wavelength":8303,"flux":0.33},{"wavelength":8308,"flux":0.555},{"wavelength":8314,"flux":0.33},{"wavelength":8322,"flux":0.285},{"wavelength":8331,"flux":0.29},{"wavelength":8339,"flux":1.2},{"wavelength":8347,"flux":0.565},{"wavelength":8354,"flux":0.345},{"wavelength":8360,"flux":0.555},{"wavelength":8367,"flux":0.32},{"wavelength":8373,"flux":0.29},{"wavelength":8380,"flux":0.70},{"wavelength":8387,"flux":0.32},{"wavelength":8393,"flux":1.2},{"wavelength":8398,"flux":0.305},{"wavelength":8403,"flux":0.54},{"wavelength":8412,"flux":0.78},{"wavelength":8419,"flux":0.305},{"wavelength":8425,"flux":1.2},{"wavelength":8432,"flux":0.29},{"wavelength":8438,"flux":0.29},{"wavelength":8448,"flux":0.71},{"wavelength":8453,"flux":0.475},{"wavelength":8463,"flux":1.2},{"wavelength":8468,"flux":0.305},{"wavelength":8478,"flux":0.29},{"wavelength":8489,"flux":0.605},{"wavelength":8495,"flux":0.33},{"wavelength":8502,"flux":1.2},{"wavelength":8507,"flux":0.29},{"wavelength":8520,"flux":0.29},{"wavelength":8534,"flux":0.46},{"wavelength":8540,"flux":0.30},{"wavelength":8545,"flux":0.585},{"wavelength":8553,"flux":0.29},{"wavelength":8566,"flux":0.29},{"wavelength":8575,"flux":0.32},{"wavelength":8585,"flux":0.41},{"wavelength":8593,"flux":0.435},{"wavelength":8601,"flux":0.37},{"wavelength":8611,"flux":0.475},{"wavelength":8619,"flux":1.2},{"wavelength":8628,"flux":1.2},{"wavelength":8639,"flux":0.44},{"wavelength":8647,"flux":1.2},{"wavelength":8663,"flux":1.2},{"wavelength":8671,"flux":0.67},{"wavelength":8680,"flux":0.50},{"wavelength":8690,"flux":0.41},{"wavelength":8696,"flux":0.385},{"wavelength":8703,"flux":0.37},{"wavelength":8709,"flux":0.32},{"wavelength":8719,"flux":0.33},{"wavelength":8729,"flux":0.33},{"wavelength":8738,"flux":0.33},{"wavelength":8748,"flux":0.325},{"wavelength":8753,"flux":1.2},{"wavelength":8764,"flux":0.32},{"wavelength":8768,"flux":0.51},{"wavelength":8774,"flux":1.2},{"wavelength":8781,"flux":0.33},{"wavelength":8787,"flux":0.735},{"wavelength":8794,"flux":0.32},{"wavelength":8805,"flux":0.395},{"wavelength":8810,"flux":0.32},{"wavelength":8820,"flux":1.2},{"wavelength":8828,"flux":0.70},{"wavelength":8833,"flux":1.2},{"wavelength":8840,"flux":0.345},{"wavelength":8845,"flux":0.66},{"wavelength":8851,"flux":0.355},{"wavelength":8862,"flux":1.2},{"wavelength":8872,"flux":0.37},{"wavelength":8880,"flux":1.2},{"wavelength":8888,"flux":0.37},{"wavelength":8895,"flux":1.2},{"wavelength":8901,"flux":0.355},{"wavelength":8911,"flux":1.2},{"wavelength":8918,"flux":0.355},{"wavelength":8924,"flux":0.385},{"wavelength":8933,"flux":1.2},{"wavelength":8939,"flux":0.355},{"wavelength":8944,"flux":0.37},{"wavelength":8950,"flux":1.2},{"wavelength":8957,"flux":0.355},{"wavelength":8963,"flux":0.395},{"wavelength":8972,"flux":0.395},{"wavelength":8977,"flux":0.37},{"wavelength":8983,"flux":1.2},{"wavelength":8990,"flux":0.37},{"wavelength":8998,"flux":1.2},{"wavelength":9006,"flux":0.37},{"wavelength":9014,"flux":0.37},{"wavelength":9022,"flux":0.355},{"wavelength":9034,"flux":0.63},{"wavelength":9038,"flux":0.475},{"wavelength":9045,"flux":0.815},{"wavelength":9052,"flux":0.355},{"wavelength":9058,"flux":0.37},{"wavelength":9065,"flux":0.345},{"wavelength":9074,"flux":0.355},{"wavelength":9081,"flux":0.355},{"wavelength":9087,"flux":0.54},{"wavelength":9093,"flux":0.355},{"wavelength":9097,"flux":0.625},{"wavelength":9104,"flux":0.345},{"wavelength":9117,"flux":0.335},{"wavelength":9127,"flux":0.345},{"wavelength":9140,"flux":0.355},{"wavelength":9148,"flux":0.515},{"wavelength":9155,"flux":0.555},{"wavelength":9163,"flux":0.37},{"wavelength":9172,"flux":0.365},{"wavelength":9185,"flux":0.355},{"wavelength":9195,"flux":0.365},{"wavelength":9204,"flux":0.37},{"wavelength":9210,"flux":0.48},{"wavelength":9219,"flux":0.52},{"wavelength":9226,"flux":0.395},{"wavelength":9231,"flux":0.37},{"wavelength":9244,"flux":0.44},{"wavelength":9249,"flux":0.395},{"wavelength":9258,"flux":0.55},{"wavelength":9267,"flux":0.375},{"wavelength":9277,"flux":0.38},{"wavelength":9282,"flux":0.49},{"wavelength":9288,"flux":0.52},{"wavelength":9295,"flux":0.42},{"wavelength":9300,"flux":0.42}
]
},
"layer": [
{
"data": {"name": "noise"},
"mark": {"type": "line", "color": "#008000", "strokeWidth": 1.3, "clip": true},
"encoding": {
"x": {"field": "wavelength", "type": "quantitative", "scale": {"domain": [4750, 9300], "nice": false, "zero": false},
"axis": {"title": "Wavelength", "values": [5000, 6000, 7000, 8000, 9000], "format": "d", "grid": false, "labelFont": "DejaVu Sans", "labelFontSize": 26, "labelColor": "black", "labelPadding": 18, "labelOverlap": false, "labelFlush": false, "tickSize": 13, "tickWidth": 2, "tickColor": "black", "domainColor": "black", "domainWidth": 2.5, "titleFont": "DejaVu Sans", "titleFontSize": 32, "titleFontWeight": "normal", "titleColor": "black", "titlePadding": 4}},
"y": {"field": "flux", "type": "quantitative", "scale": {"domain": [-1.155, 0.845], "nice": false, "zero": false},
"axis": {"title": "10⁻¹⁸ erg s⁻¹ cm⁻² Å⁻¹", "values": [-1, -0.75, -0.5, -0.25, 0, 0.25, 0.5, 0.75], "format": ".2f", "grid": false, "labelFont": "DejaVu Sans", "labelFontSize": 34, "labelColor": "black", "labelPadding": 20, "labelOverlap": false, "labelFlush": false, "tickSize": 13, "tickWidth": 2, "tickColor": "black", "domainColor": "black", "domainWidth": 2.5, "titleFont": "DejaVu Sans", "titleFontSize": 50, "titleFontWeight": "normal", "titleColor": "black", "titlePadding": 26}}
}
},
{
"data": {"values": [{}]},
"mark": {"type": "rule", "color": "#0000ff", "strokeWidth": 5},
"encoding": {"y": {"datum": 0, "type": "quantitative"}}
},
{
"data": {"name": "flux"},
"mark": {"type": "line", "color": "black", "strokeWidth": 4.5, "clip": true},
"encoding": {
"x": {"field": "wavelength", "type": "quantitative"},
"y": {"field": "flux", "type": "quantitative"}
}
}
]
}
